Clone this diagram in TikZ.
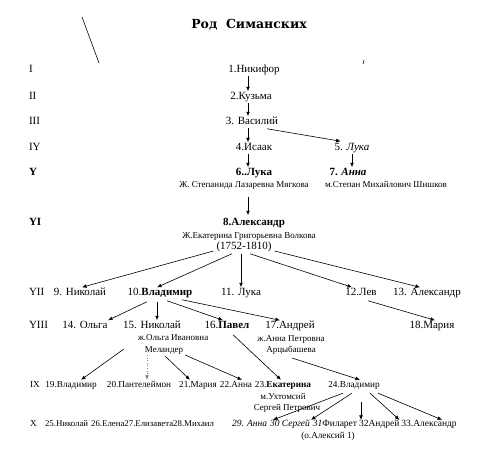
\documentclass[tikz,border=0pt]{standalone}
\usepackage{fontspec}
\setmainfont{Liberation Serif}
\newfontfamily\titlefont{DejaVu Serif}
\usetikzlibrary{arrows.meta,calc}
\begin{document}
\begin{tikzpicture}[x=1pt,y=-1pt,
  every node/.style={inner sep=0pt, outer sep=1pt},
  nm/.style={font=\fontsize{11}{13}\selectfont, text height=7.5pt, text depth=2pt},
  sm/.style={font=\fontsize{9}{11}\selectfont, text height=6.2pt, text depth=1.8pt},
  rw/.style={font=\fontsize{9.2}{11}\selectfont, text height=6.5pt, text depth=1.8pt},
  xr/.style={font=\fontsize{8.8}{11}\selectfont, text height=6.5pt, text depth=1.8pt},
  xq/.style={font=\fontsize{9.5}{11}\selectfont, text height=6.5pt, text depth=1.8pt},
  gen/.style={nm, anchor=west},
  chain/.style={rw, anchor=west, outer sep=0pt},
  arr/.style={-{Latex[length=4.5pt,width=3.8pt]}, line width=0.6pt},
]
\useasboundingbox (0,0) rectangle (492,455);
% title and stray marks
\node[font=\titlefont\bfseries\fontsize{12.5}{14}\selectfont] (title) at (249,25) {Род\ \ Симанских};
\draw[line width=0.6pt] (82,17) -- (99,63);
\draw[line width=0.6pt] (364,60) -- (363,64);
% generation labels
\node[gen] (g1) at (28,70) {I};
\node[gen] (g2) at (28,97) {II};
\node[gen] (g3) at (28,122) {III};
\node[gen] (g4) at (28,148) {IY};
\node[gen] (g5) at (28,173) {\textbf{Y}};
\node[gen] (g6) at (28,223) {\textbf{YI}};
\node[gen] (g7) at (28,293) {YII};
\node[gen] (g8) at (28,326) {YIII};
\node[rw, anchor=west] (g9) at (29,385) {IX};
\node[rw, anchor=west] (g10) at (29,424) {X};
% persons
\node[nm] (n1) at (254,70) {1.Никифор};
\node[nm] (n2) at (251,97) {2.Кузьма};
\node[nm] (n3) at (252,122) {3. Василий};
\node[nm] (n4) at (254,148) {4.Исаак};
\node[nm] (n5) at (352,148) {5. \textit{Лука}};
\node[nm] (n6) at (254,173) {\textbf{6..Лука}};
\node[sm] (w6) at (244,185) {Ж. Степанида Лазаревна Мягкова};
\node[nm] (n7) at (348,173) {\textbf{7. \textit{Анна}}};
\node[sm] (w7) at (386,185) {м.Степан Михайлович Шишков};
\node[nm] (n8) at (254,223) {\textbf{8.Александр}};
\node[sm] (w8) at (249,236) {Ж.Екатерина Григорьевна Волкова};
\node[nm] (d8) at (244,247) {(1752-1810)};
\node[nm] (n9) at (80,293) {9. Николай};
\node[nm] (n10) at (160,293) {10.\textbf{Владимир}};
\node[nm] (n11) at (241,293) {11. Лука};
\node[nm] (n12) at (361,293) {12.Лев};
\node[nm] (n13) at (427,293) {13. Александр};
\node[nm] (n14) at (85,326) {14. Ольга};
\node[nm] (n15) at (152,326) {15. Николай};
\node[nm] (n16) at (227,326) {16.\textbf{Павел}};
\node[nm] (n17) at (290,326) {17.Андрей};
\node[nm] (n18) at (432,326) {18.Мария};
\node[sm] (w15a) at (173,338) {ж.Ольга Ивановна};
\node[sm] (w15b) at (164,350) {Меландер};
\node[sm] (w17a) at (291,339) {ж.Анна Петровна};
\node[sm] (w17b) at (291,350) {Арцыбашева};
\node[rw] (n19) at (71,385) {19.Владимир};
\node[rw] (n20) at (139,385) {20.Пантелеймон};
\node[rw] (n21) at (198,385) {21.Мария};
\node[rw] (n22) at (236,385) {22.Анна};
\node[rw] (n23) at (283,385) {23.\textbf{Екатерина}};
\node[rw] (n24) at (354,385) {24.Владимир};
\node[sm] (w23a) at (283,397) {м.Ухтомсий};
\node[sm] (w23b) at (287,408) {Сергей Петрович};
\node[chain, xr] (n25) at (45,424) {25.Николай};
\node[chain, xr] (n26) at ($(n25.east)+(3,0)$) {26.Елена};
\node[chain, xr] (n27) at (n26.east) {27.Елизавета};
\node[chain, xr] (n28) at (n27.east) {28.Михаил};
\node[chain, xq] (n29) at (232,424) {\textit{29. Анна}};
\node[chain, xq] (n30) at ($(n29.east)+(3,0)$) {\textit{30 Сергей}};
\node[chain, xq] (n31) at ($(n30.east)+(3,0)$) {\textit{31}Филарет};
\node[chain, xq] (n32) at ($(n31.east)+(2,0)$) {32Андрей};
\node[chain, xq] (n33) at ($(n32.east)+(2,0)$) {33.Александр};
\node[rw] (m30) at (328,436) {(о.Алексий 1)};
% connectors
\draw[arr] ($(n1.south)+(-6,0)$) -- ($(n2.north)+(-3,0)$);
\draw[arr] ($(n2.south)+(-3,0)$) -- ($(n3.north)+(-4,0)$);
\draw[arr] ($(n3.south)+(-4,0)$) -- ($(n4.north)+(-6,0)$);
\draw[arr] ($(n3.south east)+(-12,1)$) -- ($(n5.north west)+(7,-1)$);
\draw[arr] ($(n4.south)+(-6,0)$) -- ($(n6.north)+(-6,0)$);
\draw[arr] (n5.south) -- ($(n7.north)+(4,0)$);
\draw[arr] ($(w6.south)+(4,7)$) -- ($(n8.north)+(-6,-2)$);
\draw[arr] ($(d8.west)+(-2,4)$) -- ($(n9.north)+(2,0)$);
\draw[arr] ($(d8.south)+(-12,1)$) -- ($(n10.north)+(-3,0)$);
\draw[arr] ($(d8.south)+(-3,1)$) -- (n11.north);
\draw[arr] ($(d8.south)+(6,1)$) -- ($(n12.north)+(-9,0)$);
\draw[arr] ($(d8.east)+(2,4)$) -- ($(n13.north)+(-7,0)$);
\draw[arr] ($(n10.south)+(-13,3)$) -- ($(n14.north)+(23,0)$);
\draw[arr] ($(n10.south)+(-3,3)$) -- ($(n15.north)+(5,0)$);
\draw[arr] ($(n10.south)+(7,2)$) -- ($(n16.north)+(-4,0)$);
\draw[arr] ($(n10.south)+(22,1)$) -- ($(n17.north)+(-10,0)$);
\draw[arr] ($(n12.south)+(7,2)$) -- ($(n18.north)+(3,0)$);
\draw[arr] ($(w15b.west)+(-20,-1)$) -- ($(n19.north)+(10,0)$);
\draw[arr, dotted, gray, line width=0.5pt] ($(w15b.south)+(-17,0)$) -- ($(n20.north)+(8,0)$);
\draw[arr] ($(w15b.south)+(1,1)$) -- ($(n21.north)+(-8,0)$);
\draw[arr] ($(w15b.south east)+(1,0)$) -- ($(n22.north)+(6,0)$);
\draw[arr] ($(n16.south)+(6,3)$) -- ($(n23.north)+(-2,0)$);
\draw[arr] ($(w17b.south)+(1,3)$) -- ($(n24.north)+(6,0)$);
\coordinate (c31) at ($(n24.south)+(7,12)$);
\draw[arr] ($(n24.south)+(-11,3)$) -- ($(n30.north west)+(3,0)$);
\draw[arr] ($(n24.south)+(-2,3)$) -- ($(n31.north west)+(-2,0)$);
\draw[arr] (c31) -- (c31 |- n31.north);
\draw[arr] ($(n24.south)+(16,3)$) -- ($(n32.north east)+(0,0)$);
\draw[arr] ($(n24.south)+(24,3)$) -- ($(n33.north)+(13,0)$);
\end{tikzpicture}
\end{document}
